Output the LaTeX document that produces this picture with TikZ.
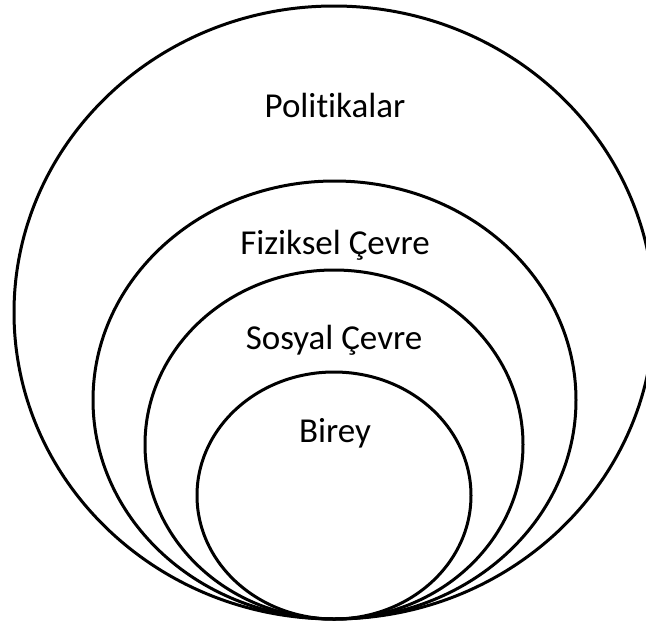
\documentclass[tikz,border=0pt]{standalone}
\usepackage{fontspec}
\setmainfont{Carlito}[Ligatures={NoCommon,NoRare}]
\begin{document}
\begin{tikzpicture}[x=1pt,y=-1pt,
  ring/.style={draw=black,line width=3pt},
  ringlabel/.style={font=\fontsize{35}{42}\selectfont,inner sep=0pt}]
\useasboundingbox (0,0) rectangle (646,625);
\clip (0,0) rectangle (646,625);
% nested ellipses, all touching at the bottom
\draw[ring] (334,312.5) ellipse [x radius=320,y radius=306.5];
\draw[ring] (334.5,400) ellipse [x radius=241.5,y radius=219];
\draw[ring] (334,444.5) ellipse [x radius=189,y radius=174.5];
\draw[ring] (334,495.5) ellipse [x radius=137,y radius=123.5];
% labels (kern keeps "t" and "i" as separate glyphs)
\node[ringlabel] (pol) at (335,105) {Poli\kern0pt{}t\kern0pt{}ikalar};
\node[ringlabel] (fiz) at (335,245) {Fiziksel Çevre};
\node[ringlabel] (sos) at (334,340) {Sosyal Çevre};
\node[ringlabel] (bir) at (335,433) {Birey};
\end{tikzpicture}
\end{document}
